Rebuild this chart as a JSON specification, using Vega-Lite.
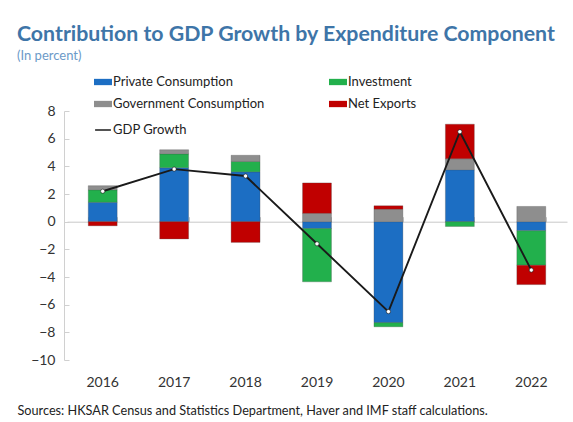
{
  "$schema": "https://vega.github.io/schema/vega-lite/v6.json",
  "width": 500,
  "height": 249,
  "autosize": {"type": "none"},
  "padding": {"left": 67, "top": 111, "right": 6, "bottom": 62},
  "background": "white",
  "config": {
    "font": "Lato",
    "view": {"stroke": null},
    "axisY": {
      "values": [-10, -8, -6, -4, -2, 0, 2, 4, 6, 8],
      "grid": false,
      "offset": 3,
      "domainColor": "#d0d0d0",
      "tickColor": "#d0d0d0",
      "tickSize": -5,
      "labelOverlap": false,
      "labelFlush": false,
      "labelPadding": 14,
      "labelFontSize": 14,
      "labelColor": "#333",
      "title": null
    }
  },
  "title": {
    "text": "Contribution to GDP Growth by Expenditure Component",
    "subtitle": "(In percent)",
    "anchor": "start",
    "frame": "group",
    "dx": -50,
    "fontSize": 21.3,
    "fontWeight": "bold",
    "color": "#3E75A8",
    "subtitleFontSize": 13,
    "subtitleColor": "#6C9AC8",
    "subtitlePadding": 5,
    "offset": 10
  },
  "datasets": {
    "contrib": [
      {"year": "2016", "component": "Private Consumption", "ord": 1, "value": 1.4},
      {"year": "2016", "component": "Investment", "ord": 2, "value": 0.9},
      {"year": "2016", "component": "Government Consumption", "ord": 3, "value": 0.3},
      {"year": "2016", "component": "Net Exports", "ord": 4, "value": -0.3},
      {"year": "2017", "component": "Private Consumption", "ord": 1, "value": 3.9},
      {"year": "2017", "component": "Investment", "ord": 2, "value": 1.0},
      {"year": "2017", "component": "Government Consumption", "ord": 3, "value": 0.3},
      {"year": "2017", "component": "Net Exports", "ord": 4, "value": -1.25},
      {"year": "2018", "component": "Private Consumption", "ord": 1, "value": 3.6},
      {"year": "2018", "component": "Investment", "ord": 2, "value": 0.75},
      {"year": "2018", "component": "Government Consumption", "ord": 3, "value": 0.45},
      {"year": "2018", "component": "Net Exports", "ord": 4, "value": -1.5},
      {"year": "2019", "component": "Private Consumption", "ord": 1, "value": -0.5},
      {"year": "2019", "component": "Investment", "ord": 2, "value": -3.85},
      {"year": "2019", "component": "Government Consumption", "ord": 3, "value": 0.6},
      {"year": "2019", "component": "Net Exports", "ord": 4, "value": 2.2},
      {"year": "2020", "component": "Private Consumption", "ord": 1, "value": -7.3},
      {"year": "2020", "component": "Investment", "ord": 2, "value": -0.3},
      {"year": "2020", "component": "Government Consumption", "ord": 3, "value": 0.9},
      {"year": "2020", "component": "Net Exports", "ord": 4, "value": 0.25},
      {"year": "2021", "component": "Private Consumption", "ord": 1, "value": 3.75},
      {"year": "2021", "component": "Investment", "ord": 2, "value": -0.35},
      {"year": "2021", "component": "Government Consumption", "ord": 3, "value": 0.8},
      {"year": "2021", "component": "Net Exports", "ord": 4, "value": 2.5},
      {"year": "2022", "component": "Private Consumption", "ord": 1, "value": -0.65},
      {"year": "2022", "component": "Investment", "ord": 2, "value": -2.5},
      {"year": "2022", "component": "Government Consumption", "ord": 3, "value": 1.1},
      {"year": "2022", "component": "Net Exports", "ord": 4, "value": -1.4}
    ],
    "gdp": [
      {"year": "2016", "series": "GDP Growth", "gdp": 2.2},
      {"year": "2017", "series": "GDP Growth", "gdp": 3.8},
      {"year": "2018", "series": "GDP Growth", "gdp": 3.3},
      {"year": "2019", "series": "GDP Growth", "gdp": -1.6},
      {"year": "2020", "series": "GDP Growth", "gdp": -6.5},
      {"year": "2021", "series": "GDP Growth", "gdp": 6.5},
      {"year": "2022", "series": "GDP Growth", "gdp": -3.5}
    ]
  },
  "layer": [
    {
      "data": {"name": "contrib"},
      "mark": {"type": "bar", "stroke": "#444", "strokeWidth": 0.6, "strokeOpacity": 0.45},
      "encoding": {
        "x": {
          "field": "year",
          "type": "ordinal",
          "scale": {"paddingInner": 0.595, "paddingOuter": 0.2975},
          "axis": {
            "orient": "bottom",
            "domain": false,
            "ticks": false,
            "labelAngle": 0,
            "labelPadding": 15,
            "labelFontSize": 14,
            "labelColor": "#333",
            "title": "Sources: HKSAR Census and Statistics Department, Haver and IMF staff calculations.",
            "titleX": -50,
            "titleY": 50,
            "titleAlign": "left",
            "titleAnchor": "start",
            "titleBaseline": "middle",
            "titleFontSize": 12.7,
            "titleFontWeight": "normal",
            "titleColor": "#222",
            "titleLimit": 600
          }
        },
        "y": {
          "field": "value",
          "type": "quantitative",
          "stack": "zero",
          "scale": {"domain": [-10, 8], "nice": false},
          "axis": {"values": [-10, -8, -6, -4, -2, 0, 2, 4, 6, 8], "labelOverlap": false}
        },
        "color": {
          "field": "component",
          "type": "nominal",
          "scale": {
            "domain": ["Private Consumption", "Government Consumption", "Investment", "Net Exports"],
            "range": ["#1C6EC3", "#8E8E8E", "#22B04C", "#C00000"]
          },
          "legend": {
            "orient": "none",
            "legendX": 27,
            "legendY": -38,
            "columns": 2,
            "columnPadding": 64,
            "rowPadding": 6,
            "padding": 0,
            "title": null,
            "symbolType": "M-1,-0.35H1V0.35H-1Z",
            "symbolSize": 324,
            "symbolStrokeWidth": 0,
            "labelFontSize": 13,
            "labelLimit": 300,
            "labelColor": "#222",
            "labelOffset": 1
          }
        },
        "order": {"field": "ord", "type": "quantitative"}
      }
    },
    {
      "data": {"name": "gdp"},
      "mark": {
        "type": "line",
        "strokeWidth": 1.9,
        "point": {"filled": true, "fill": "white", "stroke": "#222", "strokeWidth": 0.6, "size": 18}
      },
      "encoding": {
        "x": {
          "field": "year",
          "type": "ordinal",
          "axis": {
            "orient": "top",
            "offset": -110.7,
            "labels": false,
            "title": null,
            "domainColor": "#c8c8c8",
            "tickColor": "#c8c8c8",
            "tickBand": "extent",
            "tickSize": 5
          }
        },
        "y": {
          "field": "gdp",
          "type": "quantitative",
          "axis": {"values": [-10, -8, -6, -4, -2, 0, 2, 4, 6, 8], "labelOverlap": false}
        },
        "stroke": {
          "field": "series",
          "type": "nominal",
          "scale": {"range": ["#1a1a1a"]},
          "legend": {
            "orient": "none",
            "legendX": 27,
            "legendY": 10,
            "padding": 0,
            "title": null,
            "symbolType": "stroke",
            "symbolSize": 250,
            "symbolStrokeWidth": 1.5,
            "labelFontSize": 13,
            "labelColor": "#222",
            "labelOffset": 1
          }
        }
      }
    }
  ],
  "resolve": {"axis": {"x": "independent"}}
}
